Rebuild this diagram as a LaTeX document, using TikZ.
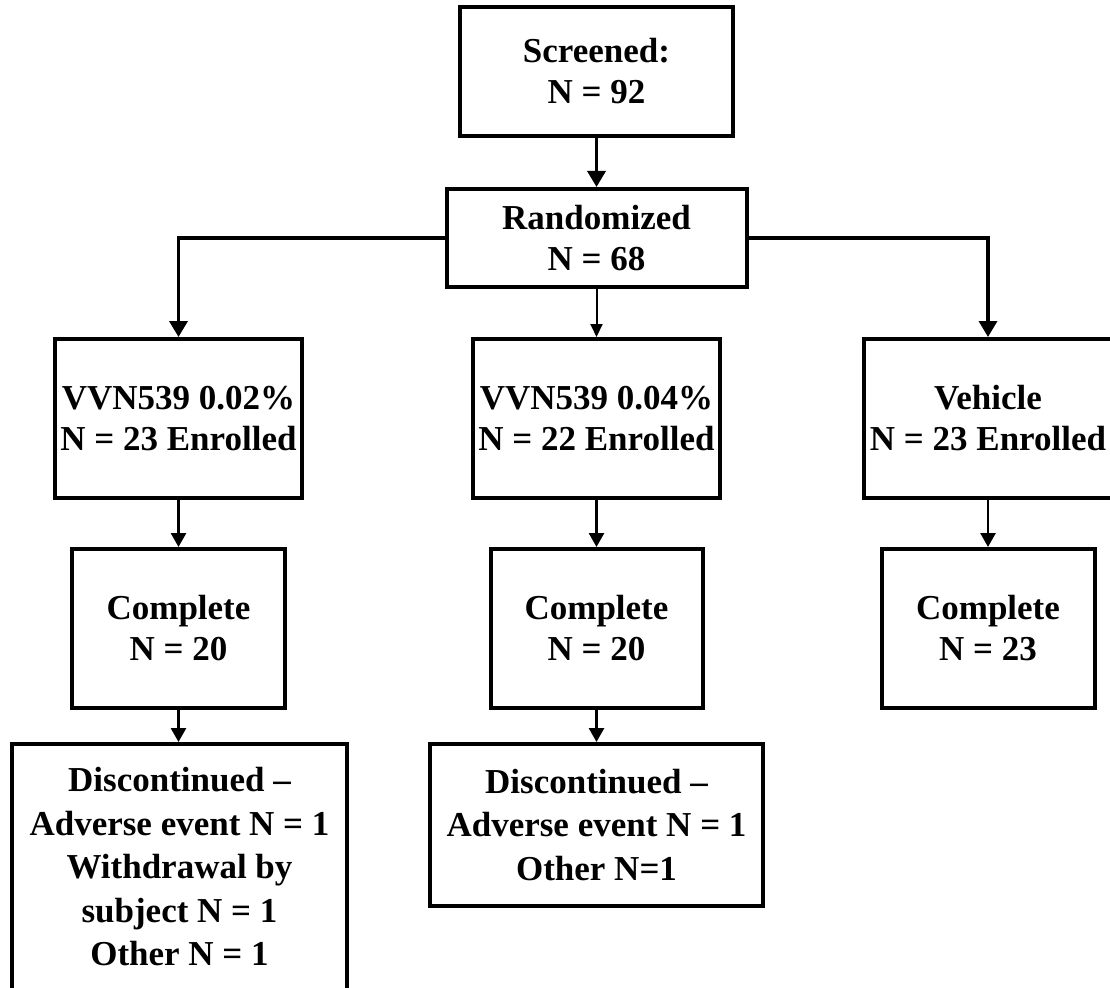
\documentclass[tikz,border=0pt]{standalone}
\usepackage{fontspec}
\setmainfont{Liberation Serif}
\usetikzlibrary{arrows.meta}
\begin{document}
\begin{tikzpicture}[x=1pt,y=-1pt,
  box/.style={draw=black, line width=4pt, rectangle, align=center, inner sep=0pt,
    font=\fontsize{35}{41}\selectfont\bfseries},
  discbox/.style={box, font=\fontsize{35}{43.5}\selectfont\bfseries},
  thickarr/.style={line width=3.5pt, -{Triangle[length=16pt,width=18pt]}},
  lowarr/.style={line width=2.7pt, -{Triangle[length=14pt,width=15pt]}},
  thinarr/.style={line width=2pt, -{Triangle[length=13pt,width=12pt]}}]
\useasboundingbox (0,0) rectangle (1110,987);
\clip (0,0) rectangle (1110,987);

\node[box, minimum width=273pt, minimum height=129pt] (scr) at (596.5,71.5) {Screened:\\N = 92};
\node[box, minimum width=300pt, minimum height=98pt] (rand) at (596.5,238) {Randomized\\N = 68};

\node[box, minimum width=247pt, minimum height=159pt] (v1) at (178.5,418.5) {VVN539 0.02\%\\N = 23 Enrolled};
\node[box, minimum width=247pt, minimum height=159pt] (v2) at (596.5,418.5) {VVN539 0.04\%\\N = 22 Enrolled};
\node[box, minimum width=248pt, minimum height=159pt] (v3) at (988,418.5) {Vehicle\\N = 23 Enrolled};

\node[box, minimum width=213pt, minimum height=159pt] (c1) at (178.5,628.5) {Complete\\N = 20};
\node[box, minimum width=212pt, minimum height=159pt] (c2) at (596.5,628.5) {Complete\\N = 20};
\node[box, minimum width=213pt, minimum height=159pt] (c3) at (988,628.5) {Complete\\N = 23};

\node[discbox, minimum width=335pt, minimum height=246pt] (d1) at (179.5,867)
  {Discontinued --\\Adverse event N = 1\\Withdrawal by\\subject N = 1\\Other N = 1};
\node[discbox, minimum width=333pt, minimum height=162pt] (d2) at (596.5,825)
  {Discontinued --\\Adverse event N = 1\\Other N=1};

\draw[thickarr] (scr.south) -- (rand.north);
\draw[thickarr] (rand.west) -| (v1.north);
\draw[thickarr] (rand.east) -| (v3.north);
\draw[thinarr] (rand.south) -- (v2.north);

\draw[lowarr] (v1.south) -- (c1.north);
\draw[lowarr] (v2.south) -- (c2.north);
\draw[lowarr] (v3.south) -- (c3.north);
\draw[lowarr] (c1.south) -- (d1.north -| c1.south);
\draw[lowarr] (c2.south) -- (d2.north -| c2.south);
\end{tikzpicture}
\end{document}
